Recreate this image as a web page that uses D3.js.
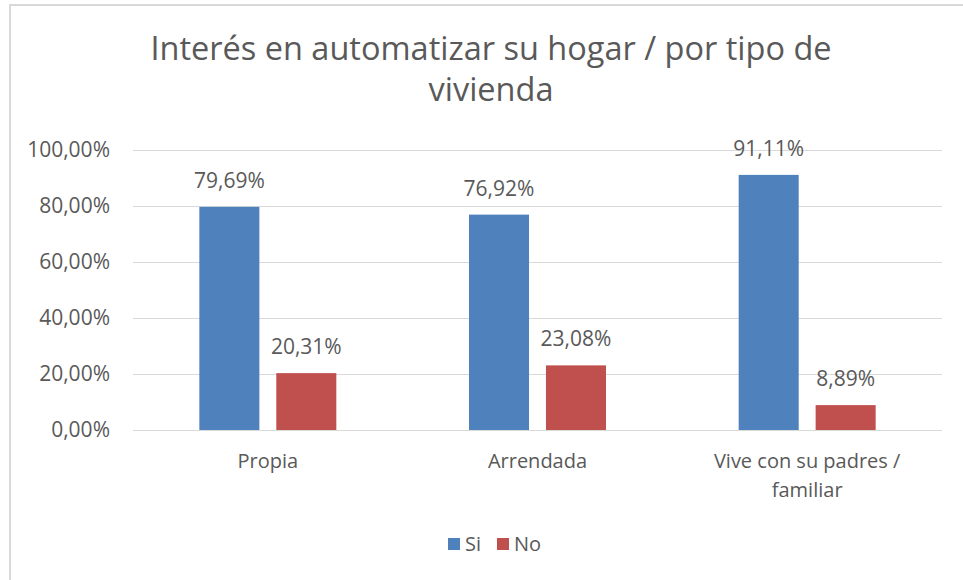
<!DOCTYPE html>
<html lang="es">
<head>
    <meta charset="UTF-8">
    <title>Interés en automatizar su hogar</title>
    <script src="https://d3js.org/d3.v7.min.js"></script>
    <style>
        body { margin: 0; background: #fff; }
        text { font-family: "Open Sans", sans-serif; fill: #595959; }
    </style>
</head>
<body>
    <div id="chart"></div>
    <script>
        var categories = ["Propia", "Arrendada", "Vive con su padres / familiar"];
        var seriesNames = ["Si", "No"];
        var siValues = [79.69, 76.92, 91.11];
        var noValues = [20.31, 23.08, 8.89];
        var yTicks = [0, 20, 40, 60, 80, 100];
        var titleLines = ["Interés en automatizar su hogar / por tipo de", "vivienda"];
        var colors = ["#4F81BD", "#C0504D"];

        var width = 963, height = 580;
        var plot = { left: 133, right: 942, top: 150, bottom: 430 };

        var svg = d3.select("#chart").append("svg")
            .attr("width", width)
            .attr("height", height);

        // chart frame
        svg.append("rect")
            .attr("x", 10).attr("y", 5)
            .attr("width", 970).attr("height", 600)
            .attr("fill", "#fff")
            .attr("stroke", "#D9D9D9")
            .attr("stroke-width", 2);

        // title
        var title = svg.append("text")
            .attr("text-anchor", "middle")
            .style("font-size", "32.5px");
        titleLines.forEach(function(line, i) {
            title.append("tspan")
                .attr("x", 491)
                .attr("y", 60 + i * 41)
                .text(line);
        });

        var x = d3.scaleBand()
            .domain(categories)
            .range([plot.left, plot.right])
            .paddingInner(0.492)
            .paddingOuter(0.246);

        var xInner = d3.scaleBand()
            .domain(seriesNames)
            .range([0, x.bandwidth()])
            .paddingInner(0.22);

        var y = d3.scaleLinear()
            .domain([0, 100])
            .range([plot.bottom, plot.top]);

        var fmt = function(v) { return v.toFixed(2).replace(".", ",") + "%"; };

        // gridlines + y labels
        var yAxis = svg.append("g")
            .attr("transform", "translate(" + plot.left + ",0)")
            .call(d3.axisLeft(y)
                .tickValues(yTicks)
                .tickSize(-(plot.right - plot.left))
                .tickPadding(23)
                .tickFormat(fmt));
        yAxis.select(".domain").remove();
        yAxis.selectAll("line").attr("stroke", "#D9D9D9");
        yAxis.selectAll("text")
            .attr("fill", "#595959")
            .style("font-family", "Open Sans, sans-serif")
            .style("font-size", "21px");

        var series = [siValues, noValues];
        seriesNames.forEach(function(name, s) {
            var g = svg.append("g");
            g.selectAll("rect")
                .data(series[s])
                .enter()
                .append("rect")
                .attr("x", function(d, i) { return x(categories[i]) + xInner(name); })
                .attr("y", function(d) { return y(d); })
                .attr("width", xInner.bandwidth())
                .attr("height", function(d) { return y(0) - y(d); })
                .attr("fill", colors[s]);

            g.selectAll("text")
                .data(series[s])
                .enter()
                .append("text")
                .attr("x", function(d, i) { return x(categories[i]) + xInner(name) + xInner.bandwidth() / 2; })
                .attr("y", function(d) { return y(d) - 19; })
                .attr("text-anchor", "middle")
                .style("font-size", "21px")
                .text(fmt);
        });

        // category labels, wrapped like Excel does
        var wrapLines = { "Vive con su padres / familiar": ["Vive con su padres /", "familiar"] };
        categories.forEach(function(c) {
            var lines = wrapLines[c] || [c];
            var t = svg.append("text")
                .attr("text-anchor", "middle")
                .style("font-size", "20px");
            lines.forEach(function(line, i) {
                t.append("tspan")
                    .attr("x", x(c) + x.bandwidth() / 2)
                    .attr("y", 468 + i * 29)
                    .text(line);
            });
        });

        // legend
        var legend = svg.append("g").attr("transform", "translate(448,538)");
        var legendX = [0, 49];
        seriesNames.forEach(function(name, s) {
            legend.append("rect")
                .attr("x", legendX[s]).attr("y", 0)
                .attr("width", 12).attr("height", 12)
                .attr("fill", colors[s]);
            legend.append("text")
                .attr("x", legendX[s] + 17)
                .attr("y", 13)
                .style("font-size", "20px")
                .text(name);
        });
    </script>
</body>
</html>
